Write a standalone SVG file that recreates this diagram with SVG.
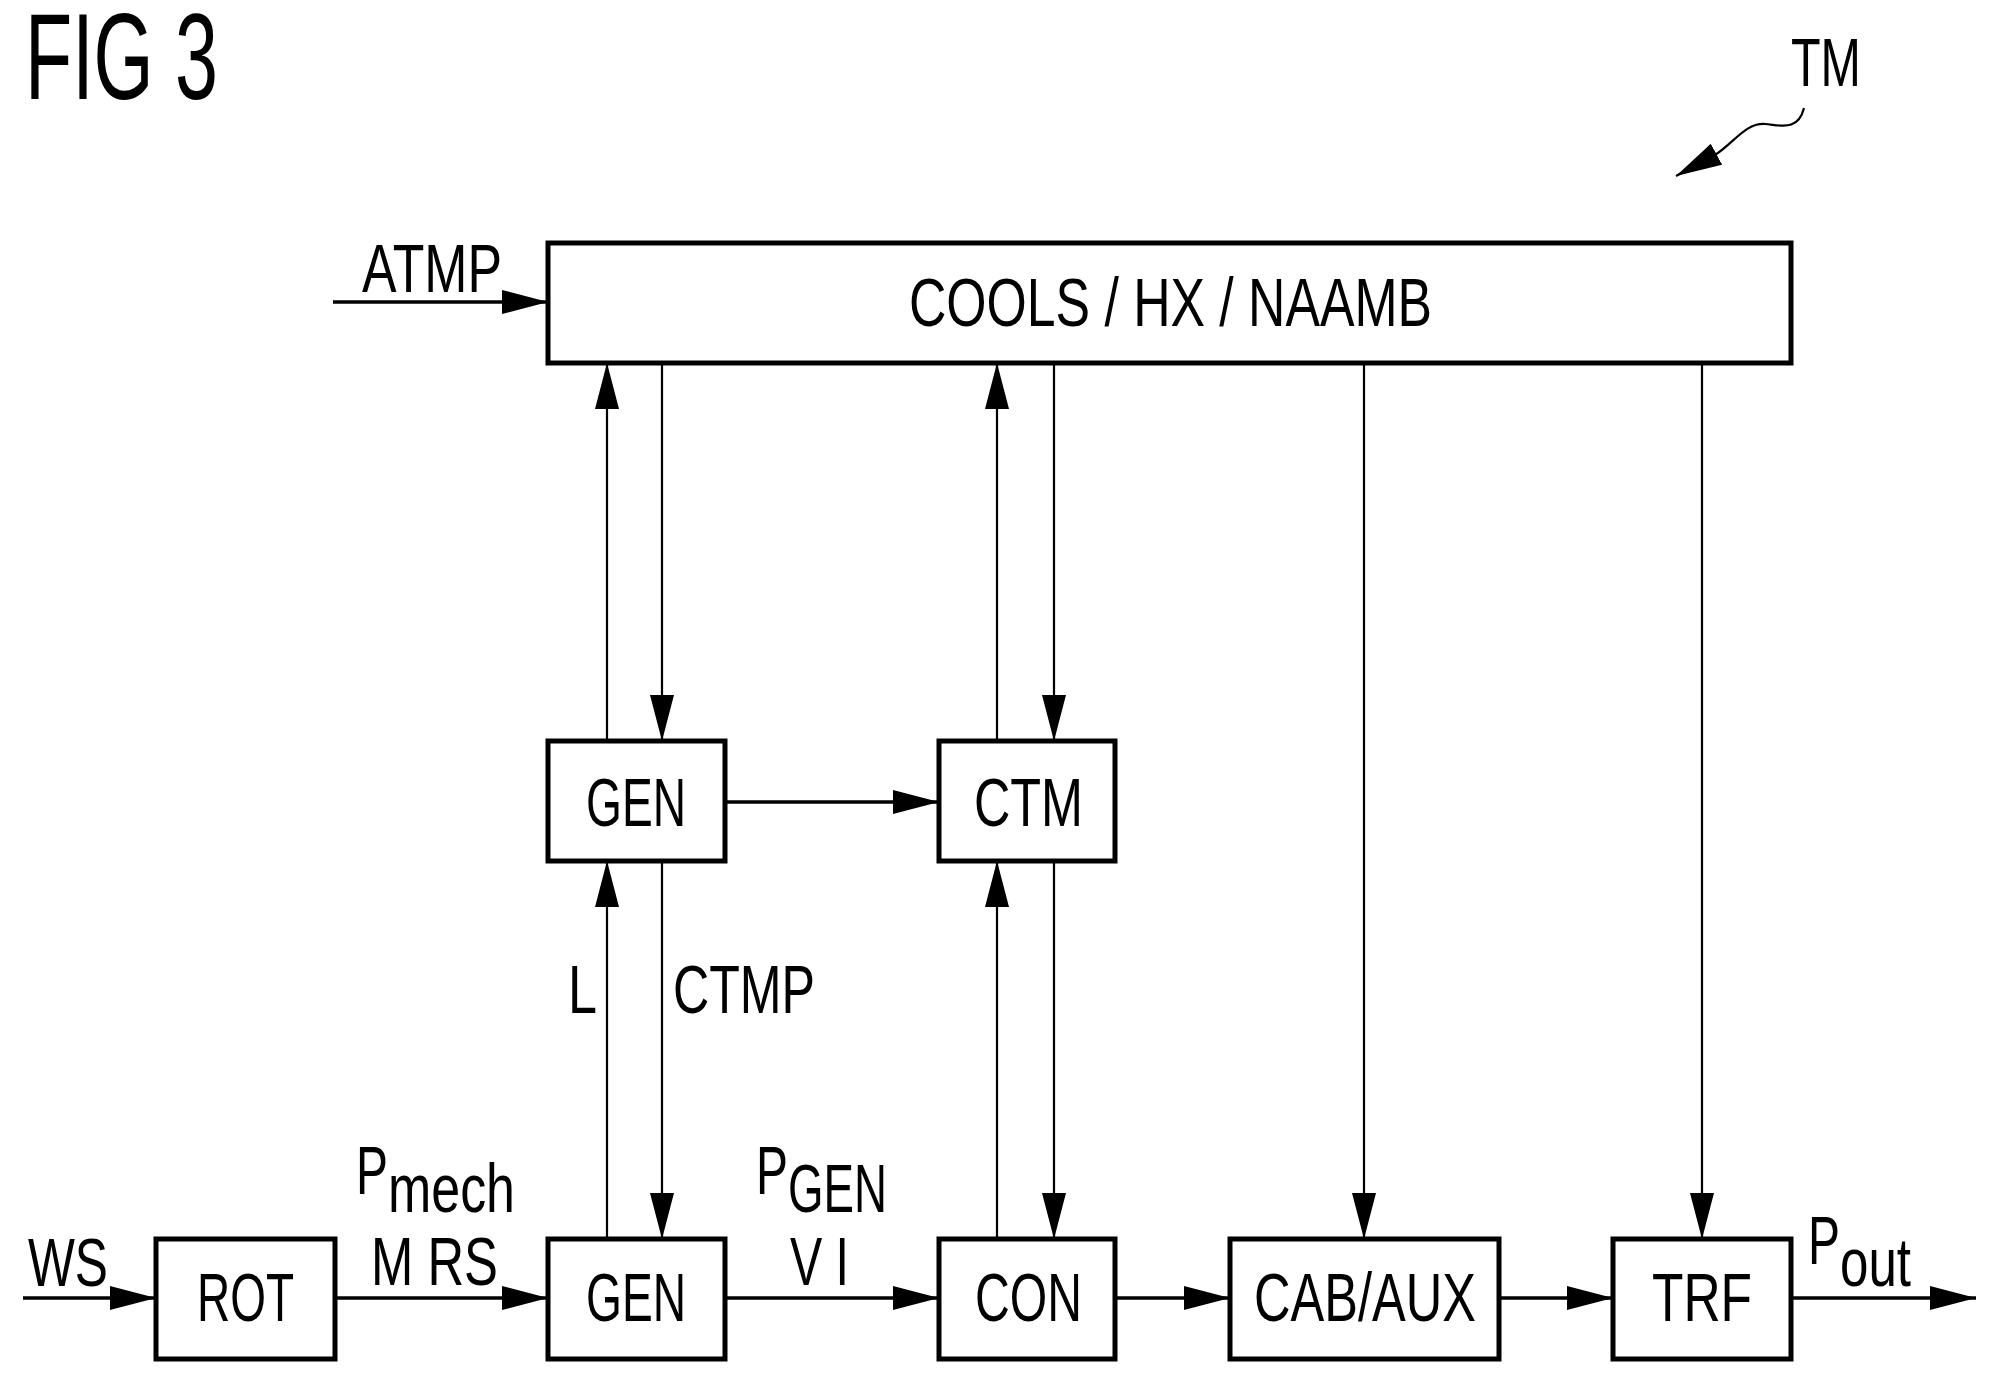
<svg xmlns="http://www.w3.org/2000/svg" width="1992" height="1383" viewBox="0 0 1992 1383">
<style>
text{font-family:"Liberation Sans Narrow","Liberation Sans",Arial,sans-serif;font-size:68px;fill:#000}
.box{fill:#fff;stroke:#000;stroke-width:5}
.h{stroke:#000;stroke-width:3.5;fill:none}
.v{stroke:#000;stroke-width:2.2;fill:none}
</style>
<defs>
<marker id="a" markerUnits="userSpaceOnUse" markerWidth="48" markerHeight="26" refX="46" refY="12" orient="auto"><path d="M0,0 L46,12 L0,24 z" fill="#000"/></marker>
</defs>
<rect width="1992" height="1383" fill="#fff"/>
<text x="25" y="99" style="font-size:122px" textLength="193" lengthAdjust="spacingAndGlyphs">FIG 3</text>
<text x="1791" y="86" textLength="70" lengthAdjust="spacingAndGlyphs">TM</text>
<g id="connectors">
<path class="v" d="M1804,108 C1798,132 1780,125 1765,124 C1745,123 1735,142 1715,155 L1676,176" marker-end="url(#a)"/>
<path class="h" d="M333,302 H548" marker-end="url(#a)"/>
<path class="v" d="M607,741 V363" marker-end="url(#a)"/>
<path class="v" d="M662,363 V741" marker-end="url(#a)"/>
<path class="v" d="M997,741 V363" marker-end="url(#a)"/>
<path class="v" d="M1054,363 V741" marker-end="url(#a)"/>
<path class="v" d="M1364,363 V1239" marker-end="url(#a)"/>
<path class="v" d="M1702,363 V1239" marker-end="url(#a)"/>
<path class="v" d="M607,1239 V861" marker-end="url(#a)"/>
<path class="v" d="M662,861 V1239" marker-end="url(#a)"/>
<path class="v" d="M997,1239 V861" marker-end="url(#a)"/>
<path class="v" d="M1054,861 V1239" marker-end="url(#a)"/>
<path class="h" d="M725,802 H939" marker-end="url(#a)"/>
<path class="h" d="M23,1298 H156" marker-end="url(#a)"/>
<path class="h" d="M335,1298 H548" marker-end="url(#a)"/>
<path class="h" d="M725,1298 H939" marker-end="url(#a)"/>
<path class="h" d="M1115,1298 H1230" marker-end="url(#a)"/>
<path class="h" d="M1499,1298 H1613" marker-end="url(#a)"/>
<path class="h" d="M1791,1298 H1976" marker-end="url(#a)"/>
</g>
<text x="362" y="292" textLength="140" lengthAdjust="spacingAndGlyphs">ATMP</text>
<text x="28" y="1286" textLength="80" lengthAdjust="spacingAndGlyphs">WS</text>
<text x="568" y="1013" textLength="29" lengthAdjust="spacingAndGlyphs">L</text>
<text x="673" y="1013" textLength="142" lengthAdjust="spacingAndGlyphs">CTMP</text>
<text x="356" y="1194" textLength="32" lengthAdjust="spacingAndGlyphs">P</text>
<text x="388" y="1212" textLength="127" lengthAdjust="spacingAndGlyphs">mech</text>
<text x="371" y="1285" textLength="127" lengthAdjust="spacingAndGlyphs">M RS</text>
<text x="756" y="1194" textLength="32" lengthAdjust="spacingAndGlyphs">P</text>
<text x="788" y="1212" textLength="99" lengthAdjust="spacingAndGlyphs">GEN</text>
<text x="790" y="1285" textLength="59" lengthAdjust="spacingAndGlyphs">V I</text>
<text x="1808" y="1264" textLength="32" lengthAdjust="spacingAndGlyphs">P</text>
<text x="1840" y="1286" textLength="71" lengthAdjust="spacingAndGlyphs">out</text>
<g id="cools"><rect class="box" x="548" y="243" width="1243" height="120"/><text x="909" y="326" textLength="523" lengthAdjust="spacingAndGlyphs">COOLS / HX / NAAMB</text></g>
<g id="gen_top"><rect class="box" x="548" y="741" width="177" height="120"/><text x="586" y="826" textLength="100" lengthAdjust="spacingAndGlyphs">GEN</text></g>
<g id="ctm"><rect class="box" x="939" y="741" width="176" height="120"/><text x="974" y="826" textLength="109" lengthAdjust="spacingAndGlyphs">CTM</text></g>
<g id="rot"><rect class="box" x="156" y="1239" width="179" height="120"/><text x="197" y="1321" textLength="97" lengthAdjust="spacingAndGlyphs">ROT</text></g>
<g id="gen"><rect class="box" x="548" y="1239" width="177" height="120"/><text x="586" y="1321" textLength="100" lengthAdjust="spacingAndGlyphs">GEN</text></g>
<g id="con"><rect class="box" x="939" y="1239" width="176" height="120"/><text x="975" y="1321" textLength="107" lengthAdjust="spacingAndGlyphs">CON</text></g>
<g id="cab"><rect class="box" x="1230" y="1239" width="269" height="120"/><text x="1254" y="1321" textLength="222" lengthAdjust="spacingAndGlyphs">CAB/AUX</text></g>
<g id="trf"><rect class="box" x="1613" y="1239" width="178" height="120"/><text x="1652" y="1321" textLength="100" lengthAdjust="spacingAndGlyphs">TRF</text></g>
</svg>
